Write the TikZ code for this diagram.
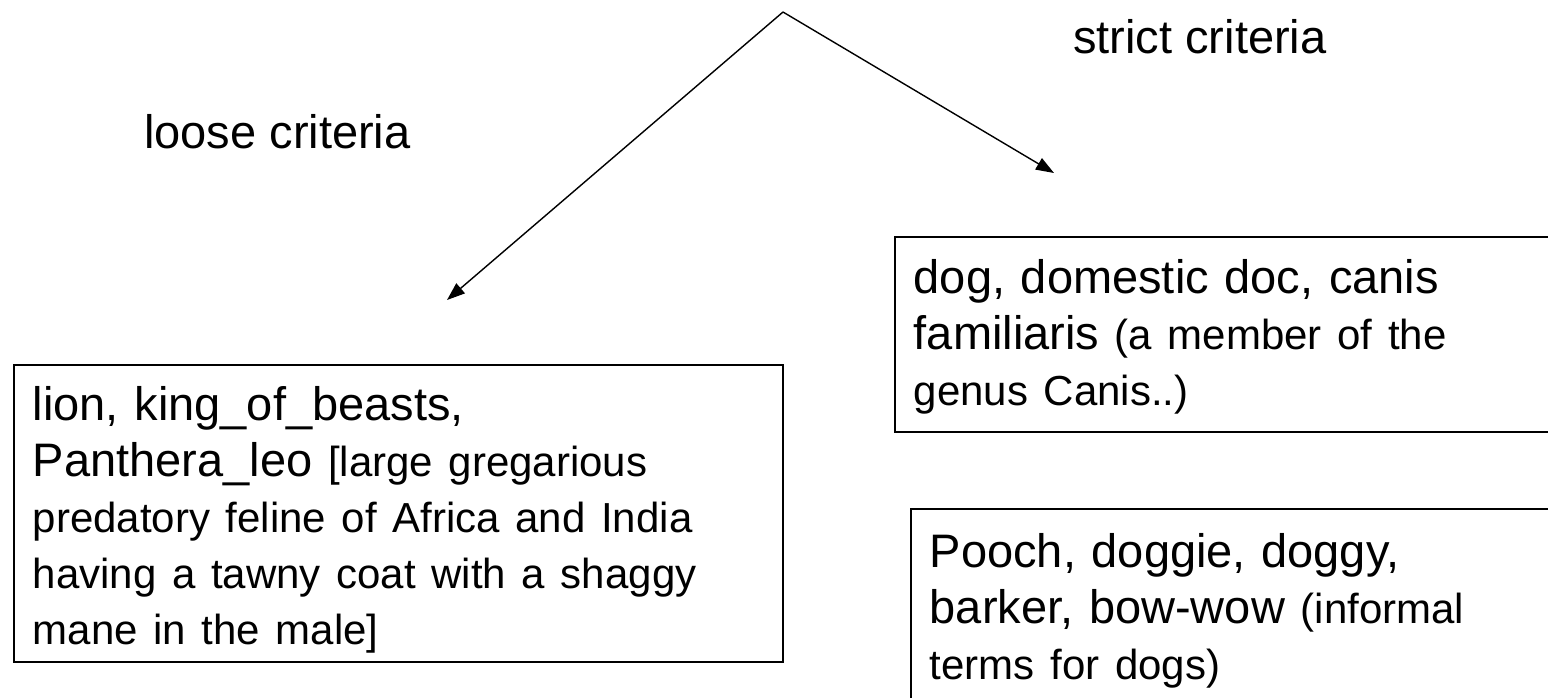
\documentclass[tikz,border=0pt]{standalone}
\usepackage{fontspec}
\setmainfont{Liberation Sans}
\usepackage{tikz}
\usetikzlibrary{arrows.meta}
\newcommand{\bigsz}{\fontsize{47}{56}\selectfont}
\newcommand{\smallsz}{\fontsize{42}{56}\selectfont}

\begin{document}
\begin{tikzpicture}[
    x=1pt, y=-1pt,
    sense/.style={rectangle, draw=black, line width=1.6pt, anchor=north west,
                  inner xsep=19pt, inner ysep=0pt, align=left, font=\bigsz},
    criterion/.style={anchor=base west, inner sep=0pt, font=\bigsz},
    branch/.style={line width=1.4pt, -{Triangle[length=18pt,width=13pt]}}
]
\useasboundingbox (0,0) rectangle (1548,697);
\clip (0,0) rectangle (1548,697);

% Split point and arrow ends
\coordinate (root) at (783,12);
\coordinate (looseend) at (447,300);
\coordinate (strictend) at (1054,173);

% Criteria
\node[criterion] (loose) at (144,148) {loose criteria};
\node[criterion] (strict) at (1073,53) {strict criteria};

% Senses
\node[sense, text width=731pt, text height=56pt, text depth=241pt] (lion) at (13,364)
    {lion, king\_of\_beasts,\\
     Panthera\_leo {\smallsz[large gregarious}\\
     {\smallsz predatory feline of Africa and India}\\
     {\smallsz having a tawny coat with a shaggy}\\
     {\smallsz mane in the male]}};
\node[sense, text width=700pt, text height=57pt, text depth=138pt] (dog) at (894,236)
    {dog, domestic doc, canis\\
     familiaris {\smallsz (a member of the}\\
     {\smallsz genus Canis..)}};
\node[sense, text width=700pt, text height=59pt, text depth=200pt] (pooch) at (910,508)
    {Pooch, doggie, doggy,\\
     barker, bow-wow {\smallsz (informal}\\
     {\smallsz terms for dogs)}};

% Connections
\draw[branch] (root) -- (looseend);
\draw[branch] (root) -- (strictend);

\end{tikzpicture}
\end{document}
